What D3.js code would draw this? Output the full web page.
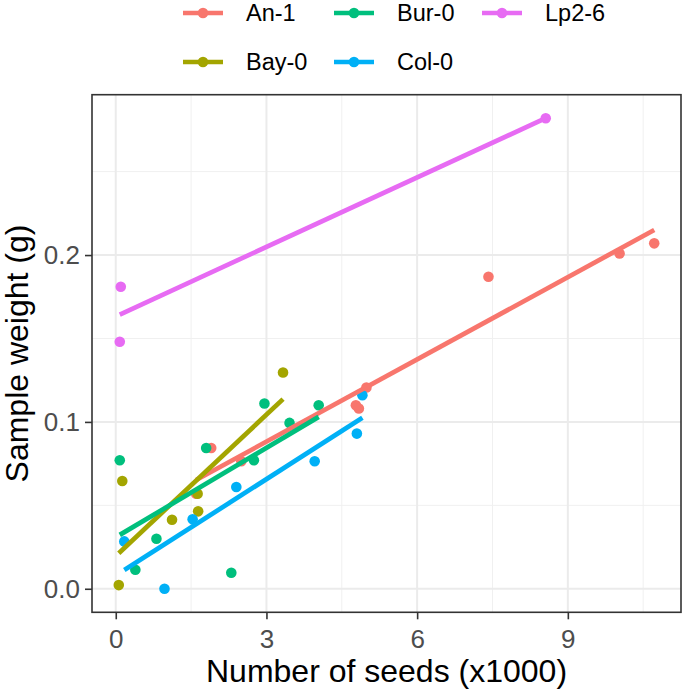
<!DOCTYPE html>
<html>
<head>
<meta charset="utf-8">
<script src="https://cdn.jsdelivr.net/npm/d3@7"></script>
<style>
  html, body { margin: 0; padding: 0; background: #ffffff; }
  svg { display: block; font-family: "Liberation Sans", Arial, sans-serif; }
</style>
</head>
<body>
<svg id="chart" width="685" height="694"></svg>
<script>
// ---- data ----
const strains = ["An-1", "Bay-0", "Bur-0", "Col-0", "Lp2-6"];
const strainColors = ["#F8766D", "#A3A500", "#00BF7D", "#00B0F6", "#E76BF3"];

// Number of seeds (x1000) and sample weight (g) per strain
const an1Seeds  = [1.60, 1.90, 2.50, 4.78, 4.84, 4.99, 7.42, 10.03, 10.72];
const an1Weight = [0.057, 0.0844, 0.0764, 0.110, 0.108, 0.1206, 0.187, 0.201, 0.207];
const bay0Seeds  = [0.06, 0.13, 1.12, 1.63, 1.64, 3.33];
const bay0Weight = [0.0022, 0.0646, 0.0414, 0.057, 0.0464, 0.1296];
const bur0Seeds  = [0.08, 0.39, 0.81, 1.80, 2.30, 2.75, 2.96, 3.46, 4.04];
const bur0Weight = [0.077, 0.0114, 0.030, 0.0844, 0.0096, 0.077, 0.111, 0.0994, 0.110];
const col0Seeds  = [0.17, 0.97, 1.53, 2.40, 3.96, 4.80, 4.91];
const col0Weight = [0.0284, 0.000, 0.0416, 0.061, 0.0764, 0.093, 0.116];
const lp26Seeds  = [0.08, 0.10, 8.56];
const lp26Weight = [0.148, 0.181, 0.282];

const xTicks = [0, 3, 6, 9];
const xMinor = [1.5, 4.5, 7.5, 10.5];
const yTicks = [0.0, 0.1, 0.2];
const yMinor = [0.05, 0.15, 0.25];
const yTickLabels = ["0.0", "0.1", "0.2"];
const xTitle = "Number of seeds (x1000)";
const yTitle = "Sample weight (g)";

// ---- build groups ----
const seedsBy = [an1Seeds, bay0Seeds, bur0Seeds, col0Seeds, lp26Seeds];
const weightBy = [an1Weight, bay0Weight, bur0Weight, col0Weight, lp26Weight];
const groups = strains.map((s, i) => ({
  name: s, color: strainColors[i],
  pts: seedsBy[i].map((x, j) => ({x, y: weightBy[i][j]}))
}));

function linFit(pts) {
  const mx = d3.mean(pts, d => d.x), my = d3.mean(pts, d => d.y);
  let sxy = 0, sxx = 0;
  pts.forEach(d => { sxy += (d.x - mx) * (d.y - my); sxx += (d.x - mx) ** 2; });
  const b = sxy / sxx, a = my - b * mx;
  const [x0, x1] = d3.extent(pts, d => d.x);
  return [{x: x0, y: a + b * x0}, {x: x1, y: a + b * x1}];
}

// ---- layout ----
const svg = d3.select("#chart");
const panel = {left: 92, right: 681, top: 94.7, bottom: 612.3};

const allPts = groups.flatMap(g => g.pts);
const xe = d3.extent(allPts, d => d.x), ye = d3.extent(allPts, d => d.y);
const xpad = (xe[1] - xe[0]) * 0.05, ypad = (ye[1] - ye[0]) * 0.05;
const x = d3.scaleLinear().domain([xe[0] - xpad, xe[1] + xpad]).range([panel.left, panel.right]);
const y = d3.scaleLinear().domain([ye[0] - ypad, ye[1] + ypad]).range([panel.bottom, panel.top]);

svg.append("rect").attr("x", panel.left).attr("y", panel.top)
  .attr("width", panel.right - panel.left).attr("height", panel.bottom - panel.top)
  .attr("fill", "#ffffff");

const grid = svg.append("g");
xMinor.forEach(v => grid.append("line").attr("x1", x(v)).attr("x2", x(v))
  .attr("y1", panel.top).attr("y2", panel.bottom).attr("stroke", "#F0F0F0").attr("stroke-width", 1));
yMinor.forEach(v => grid.append("line").attr("y1", y(v)).attr("y2", y(v))
  .attr("x1", panel.left).attr("x2", panel.right).attr("stroke", "#F0F0F0").attr("stroke-width", 1));
xTicks.forEach(v => grid.append("line").attr("x1", x(v)).attr("x2", x(v))
  .attr("y1", panel.top).attr("y2", panel.bottom).attr("stroke", "#EBEBEB").attr("stroke-width", 2));
yTicks.forEach(v => grid.append("line").attr("y1", y(v)).attr("y2", y(v))
  .attr("x1", panel.left).attr("x2", panel.right).attr("stroke", "#EBEBEB").attr("stroke-width", 2));

// points
const pg = svg.append("g");
groups.forEach(g => {
  pg.selectAll(null).data(g.pts).enter().append("circle")
    .attr("cx", d => x(d.x)).attr("cy", d => y(d.y)).attr("r", 5.3)
    .attr("fill", g.color);
});

// regression lines
const lg = svg.append("g");
const line = d3.line().x(d => x(d.x)).y(d => y(d.y));
groups.forEach(g => {
  lg.append("path").attr("d", line(linFit(g.pts)))
    .attr("stroke", g.color).attr("stroke-width", 4.7).attr("fill", "none");
});

// panel border
svg.append("rect").attr("x", panel.left).attr("y", panel.top)
  .attr("width", panel.right - panel.left).attr("height", panel.bottom - panel.top)
  .attr("fill", "none").attr("stroke", "#333333").attr("stroke-width", 1.6);

// axes
const xAxis = d3.axisBottom(x).tickValues(xTicks).tickSize(7).tickPadding(10).tickFormat(d3.format("d"));
const gx = svg.append("g").attr("transform", `translate(0,${panel.bottom})`).call(xAxis);
gx.select(".domain").remove();
gx.selectAll(".tick line").attr("stroke", "#333333").attr("stroke-width", 1.6);
gx.selectAll(".tick text").attr("fill", "#4D4D4D").style("font-size", "26px")
  .style("font-family", "Liberation Sans, Arial, sans-serif");

const yAxis = d3.axisLeft(y).tickValues(yTicks).tickSize(7).tickPadding(5)
  .tickFormat((d, i) => yTickLabels[i]);
const gy = svg.append("g").attr("transform", `translate(${panel.left},0)`).call(yAxis);
gy.select(".domain").remove();
gy.selectAll(".tick line").attr("stroke", "#333333").attr("stroke-width", 1.6);
gy.selectAll(".tick text").attr("fill", "#4D4D4D").style("font-size", "26px")
  .style("font-family", "Liberation Sans, Arial, sans-serif");

// titles
svg.append("text").attr("x", (panel.left + panel.right) / 2).attr("y", 682)
  .attr("text-anchor", "middle").style("font-size", "32px").attr("fill", "#000")
  .text(xTitle);
svg.append("text")
  .attr("transform", `translate(28,${(panel.top + panel.bottom) / 2}) rotate(-90)`)
  .attr("text-anchor", "middle").style("font-size", "32px").attr("fill", "#000")
  .text(yTitle);

// legend (column-major, 2 rows)
const legCols = [183, 334, 482];
const legRows = [13, 62];
const leg = svg.append("g");
groups.forEach((g, i) => {
  const col = Math.floor(i / 2), row = i % 2;
  const lx = legCols[col], ly = legRows[row];
  leg.append("line").attr("x1", lx).attr("x2", lx + 40).attr("y1", ly).attr("y2", ly)
    .attr("stroke", g.color).attr("stroke-width", 4.7);
  leg.append("circle").attr("cx", lx + 20).attr("cy", ly).attr("r", 5.3).attr("fill", g.color);
  leg.append("text").attr("x", lx + 63).attr("y", ly).attr("dy", "0.35em")
    .style("font-size", "23.5px").attr("fill", "#000").text(g.name);
});
</script>
</body>
</html>
